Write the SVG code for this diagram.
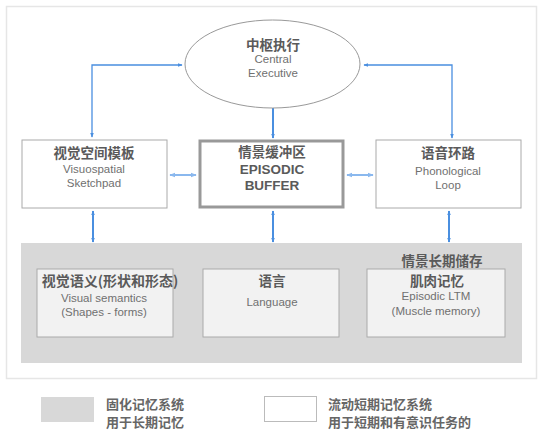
<svg xmlns="http://www.w3.org/2000/svg" width="551" height="440" viewBox="0 0 551 440">
<style>
.t{font-family:"Noto Sans CJK SC","Liberation Sans",sans-serif;fill:#666;text-anchor:middle}
.b{font-weight:bold;font-size:13.5px;fill:#5a5a5a}
.eb{font-family:"Liberation Sans",sans-serif;font-weight:bold;font-size:13.5px;fill:#5a5a5a;text-anchor:middle}
.e{font-family:"Liberation Sans","Noto Sans CJK SC",sans-serif;font-size:11.5px;fill:#707070;text-anchor:middle}
.box{fill:#fff;stroke:#aaa;stroke-width:1}
.inner{fill:#f2f2f2;stroke:#aaa;stroke-width:1}
.c{fill:none;stroke:#4a8fe0;stroke-width:1.3}
.c2{fill:none;stroke:#8ab8ee;stroke-width:2}
.c3{fill:none;stroke:#4a8fe0;stroke-width:2}
.lg{font-family:"Noto Sans CJK SC",sans-serif;font-size:13px;fill:#666;font-weight:bold}
</style>
<defs>
<marker id="a" viewBox="0 0 8 8" refX="7" refY="4" markerWidth="5" markerHeight="5" orient="auto-start-reverse" markerUnits="userSpaceOnUse"><path d="M0,1 L8,4 L0,7 z" fill="#4a8fe0"/></marker>
<marker id="a2" viewBox="0 0 8 8" refX="7" refY="4" markerWidth="6" markerHeight="6" orient="auto-start-reverse" markerUnits="userSpaceOnUse"><path d="M0,1 L8,4 L0,7 z" fill="#8ab8ee"/></marker>
</defs>
<rect x="6.5" y="6.5" width="530" height="372" fill="#fff" stroke="#e6e6e6" stroke-width="1.5"/>
<rect id="ltm-area" x="21" y="243" width="501" height="120" fill="#d8d8d8"/>
<g id="connectors">
<path class="c" d="M92,137 L92,65 L182,65" marker-start="url(#a)" marker-end="url(#a)"/>
<path class="c" d="M364,65 L452,65 L452,138" marker-start="url(#a)" marker-end="url(#a)"/>
<path class="c3" d="M273,103 L273,138" marker-start="url(#a)" marker-end="url(#a)"/>
<path class="c2" d="M170,175 L196,175" marker-start="url(#a2)" marker-end="url(#a2)"/>
<path class="c2" d="M347,175 L373,175" marker-start="url(#a2)" marker-end="url(#a2)"/>
<path class="c3" d="M93,211 L93,242" marker-start="url(#a)" marker-end="url(#a)"/>
<path class="c3" d="M273,211 L273,242" marker-start="url(#a)" marker-end="url(#a)"/>
<path class="c3" d="M449,211 L449,242" marker-start="url(#a)" marker-end="url(#a)"/>
</g>
<g id="central">
<ellipse cx="272.5" cy="64" rx="87.5" ry="44" fill="#fff" stroke="#999" stroke-width="1"/>
<text class="t b" x="273" y="50">中枢执行</text>
<text class="e" x="273" y="63">Central</text>
<text class="e" x="273" y="77">Executive</text>
</g>
<g id="visuospatial">
<rect class="box" x="22" y="140" width="145" height="68"/>
<text class="t b" x="94" y="158">视觉空间模板</text>
<text class="e" x="94" y="173">Visuospatial</text>
<text class="e" x="94" y="187">Sketchpad</text>
</g>
<g id="buffer">
<rect x="200" y="141" width="143" height="66" fill="#fff" stroke="#999" stroke-width="3"/>
<text class="t b" x="272" y="157">情景缓冲区</text>
<text class="eb" x="272" y="174">EPISODIC</text>
<text class="eb" x="272" y="190">BUFFER</text>
</g>
<g id="phonological">
<rect class="box" x="376" y="140" width="145" height="68"/>
<text class="t b" x="448" y="158">语音环路</text>
<text class="e" x="448" y="175">Phonological</text>
<text class="e" x="448" y="189">Loop</text>
</g>
<g id="visual-semantics">
<rect class="inner" x="37" y="269" width="136" height="68"/>
<text class="t b" x="110" y="286" style="font-size:14px">视觉语义(形状和形态)</text>
<text class="e" x="104" y="302">Visual semantics</text>
<text class="e" x="104" y="316">(Shapes - forms)</text>
</g>
<g id="language">
<rect class="inner" x="203" y="269" width="136" height="68"/>
<text class="t b" x="272" y="286">语言</text>
<text class="e" x="272" y="306">Language</text>
</g>
<g id="episodic-ltm">
<text class="t b" x="442" y="266">情景长期储存</text>
<rect class="inner" x="367" y="269" width="138" height="68"/>
<text class="t b" x="437" y="286">肌肉记忆</text>
<text class="e" x="436" y="300">Episodic LTM</text>
<text class="e" x="436" y="315">(Muscle memory)</text>
</g>
<g id="legend">
<rect x="41" y="397" width="53" height="25" fill="#d8d8d8"/>
<text class="lg" x="106" y="409">固化记忆系统</text>
<text class="lg" x="106" y="427">用于长期记忆</text>
<rect x="264.5" y="396.5" width="52" height="25" fill="#fff" stroke="#bbb"/>
<text class="lg" x="328" y="409">流动短期记忆系统</text>
<text class="lg" x="328" y="427">用于短期和有意识任务的</text>
</g>
</svg>
